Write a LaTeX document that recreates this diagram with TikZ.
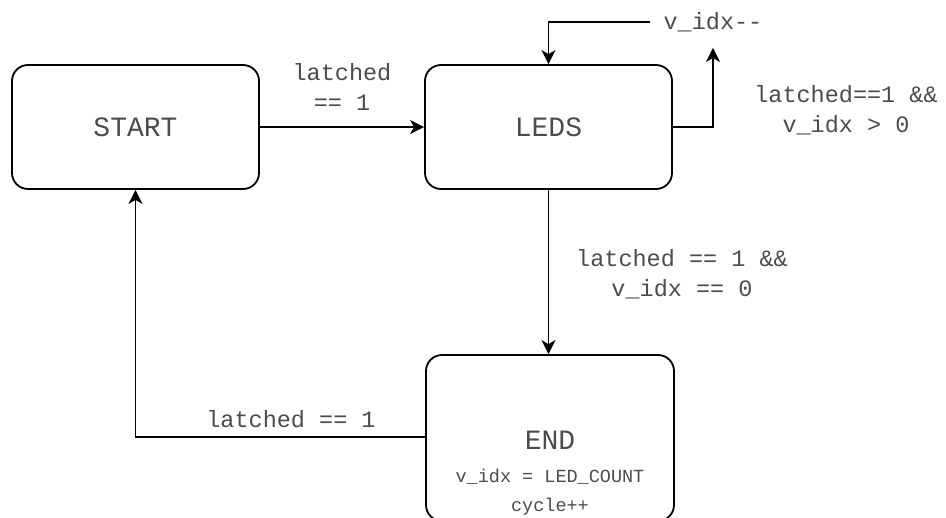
\documentclass[tikz,border=0pt]{standalone}
\usepackage{fontspec}
\setmonofont{Liberation Mono}
\usetikzlibrary{arrows.meta}
\tikzset{
  statebox/.style={draw=black, line width=1.8pt, rounded corners=16pt, fill=white,
    minimum width=247pt, minimum height=124pt, inner sep=0pt},
  titletext/.style={font=\ttfamily\fontsize{28}{32}\selectfont, text=black!70, inner sep=0pt},
  lbl/.style={font=\ttfamily\fontsize{23.5}{30}\selectfont, text=black!70, align=center, inner sep=0pt},
  smalltext/.style={font=\ttfamily\fontsize{18.5}{22}\selectfont, text=black!70, inner sep=0pt},
  conn/.style={draw=black, line width=1.8pt, -{Stealth[length=14pt,width=14pt,inset=4pt]}},
}
\begin{document}
\begin{tikzpicture}[x=1pt,y=-1pt]
\useasboundingbox (0,0) rectangle (946,518);
\clip (0,0) rectangle (946,518);
\fill[white] (0,0) rectangle (946,518);

\node[statebox] (start) at (135.5,127) {};
\node[titletext] (starttxt) at (135.5,127) {START};
\node[statebox] (leds) at (548.5,127) {};
\node[titletext] (ledstxt) at (548.5,127) {LEDS};
\node[statebox, minimum width=248pt, minimum height=166pt] (endst) at (550,438) {};
\node[titletext] (endtxt) at (550,440) {END};
\node[smalltext] (endl1) at (550,477) {v\_idx = LED\_COUNT};
\node[smalltext] (endl2) at (550,507) {cycle++};

% labels
\node[lbl] (l1) at (342,87) {latched\\== 1};
\node[lbl] (l2) at (846,110) {latched==1 \&\&\\v\_idx > 0};
\node[lbl] (l3) at (682,274) {latched == 1 \&\&\\v\_idx == 0};
\node[lbl] (l4) at (291,419) {latched == 1};
\node[lbl, inner xsep=13pt] (dec) at (713,22) {v\_idx-\kern0pt-};

% connectors
\draw[conn] (start.east) -- (leds.west);
\draw[conn] (leds.east) -| ([yshift=-16pt]dec.south);
\draw[conn] (dec.west) -| (leds.north);
\draw[conn] (leds.south) -- (leds.south |- endst.north);
\draw[conn] (endst.west |- 0,437) -| (start.south);
\end{tikzpicture}
\end{document}
